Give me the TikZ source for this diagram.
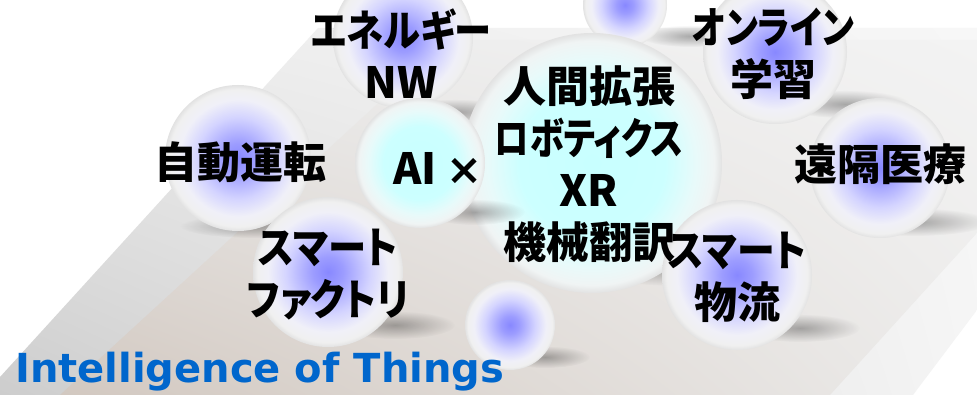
\documentclass[tikz,border=0pt]{standalone}
\usepackage{fontspec}
\newfontfamily\jpfont{Noto Sans CJK JP}[RawFeature=+palt]
\newfontfamily\iotfont{DejaVu Sans}
\usetikzlibrary{fadings,shadings}
\definecolor{bb0}{HTML}{8888FF}
\definecolor{bb1}{HTML}{9C9CFF}
\definecolor{bb2}{HTML}{D4D4FF}
\definecolor{bb3}{HTML}{F0F0F8}
\definecolor{bb4}{HTML}{F0F0F0}
\definecolor{bb5}{HTML}{E2E2E2}
\definecolor{cb0}{HTML}{C8FFFF}
\definecolor{cb1}{HTML}{CCFFFF}
\definecolor{cb2}{HTML}{E8FAFA}
\definecolor{cb3}{HTML}{F0F4F4}
\definecolor{iotblue}{HTML}{0066CC}
\pgfdeclareradialshading{bubbleblue}{\pgfpoint{0bp}{0bp}}{color(0bp)=(bb0); color(5bp)=(bb1); color(14bp)=(bb2); color(20bp)=(bb3); color(23.5bp)=(bb4); color(25bp)=(bb5); color(50bp)=(bb5)}
\pgfdeclareradialshading{bubblecyan}{\pgfpoint{0bp}{0bp}}{color(0bp)=(cb0); color(14bp)=(cb1); color(20bp)=(cb2); color(23.5bp)=(cb3); color(25bp)=(bb5); color(50bp)=(bb5)}
\tikzfading[name=softfade, inner color=transparent!40, outer color=transparent!100]
\newcommand\narrow[2]{\scalebox{#1}[1]{#2}}
\tikzset{
  label/.style={font=\jpfont\bfseries\fontsize{43}{52}\selectfont, align=center, inner sep=0pt, text=black},
  shadowblob/.style={fill=black, path fading=softfade, opacity=0.5},
}
\begin{document}
\begin{tikzpicture}[x=1pt,y=-1pt]
\useasboundingbox (0,0) rectangle (977,395);
\fill[white] (0,0) rectangle (977,395);
% floor: bevel and top surface
\shade[upper left={rgb,255:red,236;green,236;blue,236}, upper right={rgb,255:red,247;green,247;blue,247},
       lower left={rgb,255:red,205;green,205;blue,205}, lower right={rgb,255:red,245;green,245;blue,245}]
  (318,28) -- (977,28) -- (977,310) -- (913,395) -- (0,395) -- (0,377) -- cycle;
\shade[upper left={rgb,255:red,234;green,234;blue,234}, upper right={rgb,255:red,243;green,243;blue,243},
       lower left={rgb,255:red,210;green,200;blue,192}, lower right={rgb,255:red,236;green,235;blue,234}]
  (447,40) -- (977,40) -- (977,233) -- (830,395) -- (60,395) -- cycle;
% shadows and bubbles
\foreach \cx/\cy/\r/\sx/\sy/\sa/\sb/\kind in {
  625/5/42/690/36/50/11/blue,
  403/38/70/455/112/60/13/blue,
  775/52/72/845/104/65/14/blue,
  592/163/130/680/268/95/18/cyan,
  880/168/70/915/222/75/14/blue,
  238/158/73/255/226/75/12/blue,
  420/163/65/475/212/50/13/cyan,
  328/272/75/395/325/60/14/blue,
  737/275/75/800/328/60/14/blue,
  510/325/45/545/357/45/11/blue}{
  \fill[shadowblob] (\sx,\sy) ellipse ({\sa} and {\sb});
  \shade[shading=bubble\kind] (\cx,\cy) circle (\r);
}
% labels
\node[label] (nw) at (401,54) {\narrow{0.865}{エネルギー}\\NW};
\node[label] (auto) at (240,162) {自動運転};
\node[label] (ai) at (438,168) {AI {\iotfont\bfseries ×}};
\node[label] (core) at (589,164) {人間拡張\\\narrow{0.8}{ロボティクス}\\XR\\機械翻訳};
\node[label] (online) at (773,54) {\narrow{0.82}{オンライン}\\学習};
\node[label] (med) at (880,164) {遠隔医療};
\node[label] (factory) at (328,275) {\narrow{0.89}{スマート}\\\narrow{0.88}{ファクトリ}};
\node[label] (logi) at (737,277) {\narrow{0.88}{スマート}\\物流};
\node[anchor=base west, inner sep=0pt, text=iotblue, font=\iotfont\bfseries\fontsize{40}{48}\selectfont] (iot) at (15,382) {Intelligence of Things};
\end{tikzpicture}
\end{document}
